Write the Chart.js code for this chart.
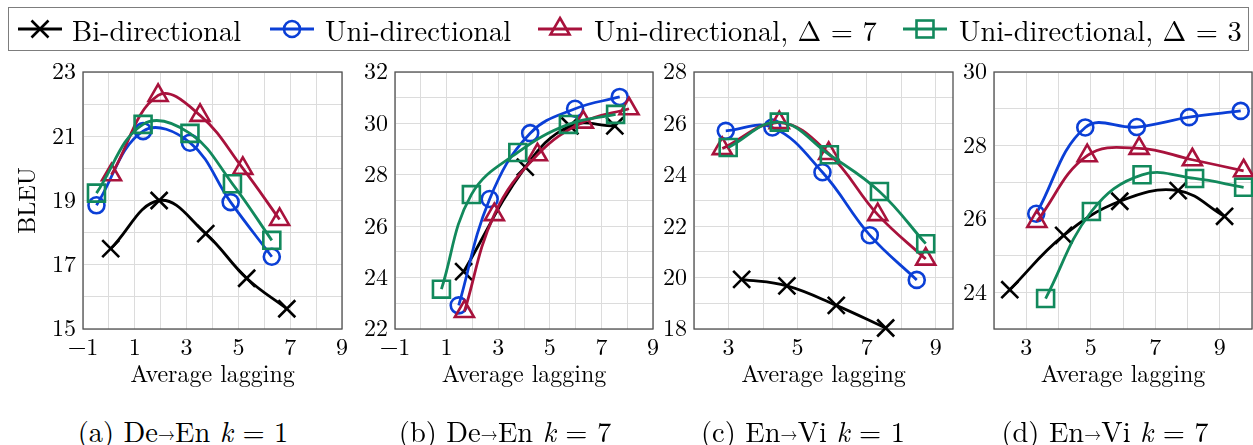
<!DOCTYPE html>
<html>
<head>
<meta charset="utf-8">
<script src="https://cdn.jsdelivr.net/npm/chart.js@4.4.1/dist/chart.umd.min.js"></script>
<style>
  html, body { margin: 0; padding: 0; width: 1253px; height: 445px; overflow: hidden; background: #fff; }
  body { position: relative; font-family: 'Latin Modern Roman', 'Liberation Serif', serif; color: #000; }
  canvas { position: absolute; }
  #legendBox { position: absolute; left: 8px; top: 7px; width: 1239px; height: 42px; border: 1.5px solid #7d7d7d; }
  .legText { position: absolute; top: 8px; height: 42px; line-height: 42px; font-size: 28.5px; white-space: nowrap; }
  .legIcon { position: absolute; top: 9px; }
  .cap { position: absolute; top: 412px; font-size: 28.5px; line-height: 36px; white-space: nowrap; transform: translateX(-50%); }
  .arr { font-size: 0.6em; position: relative; top: -0.12em; }
</style>
</head>
<body>
<div id="legendBox"></div>

<script>
// ---- tick labels (grid lines are drawn at every integer) ----
const xLabelsDeEn = [-1, 1, 3, 5, 7, 9];
const xLabelsEnVi = [3, 5, 7, 9];
const yLabelsDeEnK1 = [15, 17, 19, 21, 23];
const yLabelsDeEnK7 = [22, 24, 26, 28, 30, 32];
const yLabelsEnViK1 = [18, 20, 22, 24, 26, 28];
const yLabelsEnViK7 = [24, 26, 28, 30];

// ---- series names ----
const seriesNames = ['Bi-directional', 'Uni-directional', 'Uni-directional, \u0394 = 7', 'Uni-directional, \u0394 = 3'];

// ---- (average lagging, BLEU) pairs ----
// (a) De→En k = 1
const deEnK1Bi   = [[0.07, 17.50], [1.94, 19.00], [3.74, 17.97], [5.32, 16.58], [6.87, 15.63]];
const deEnK1Uni  = [[-0.48, 18.85], [1.32, 21.16], [3.13, 20.80], [4.70, 18.95], [6.29, 17.25]];
const deEnK1Uni7 = [[0.10, 19.80], [1.90, 22.27], [3.52, 21.65], [5.17, 20.00], [6.59, 18.41]];
const deEnK1Uni3 = [[-0.48, 19.23], [1.32, 21.37], [3.13, 21.09], [4.77, 19.52], [6.29, 17.76]];
// (b) De→En k = 7
const deEnK7Bi   = [[1.66, 24.23], [4.05, 28.30], [5.78, 29.90], [7.52, 29.90]];
const deEnK7Uni  = [[1.47, 22.92], [2.67, 27.06], [4.24, 29.62], [5.98, 30.57], [7.71, 31.03]];
const deEnK7Uni7 = [[1.69, 22.68], [2.85, 26.45], [4.52, 28.78], [6.30, 30.05], [8.07, 30.57]];
const deEnK7Uni3 = [[0.80, 23.55], [1.96, 27.23], [3.76, 28.87], [5.72, 29.96], [7.55, 30.35]];
// (c) En→Vi k = 1
const enViK1Bi   = [[3.38, 19.93], [4.69, 19.68], [6.12, 18.92], [7.55, 18.04]];
const enViK1Uni  = [[2.92, 25.71], [4.27, 25.84], [5.72, 24.10], [7.09, 21.65], [8.45, 19.91]];
const enViK1Uni7 = [[2.82, 25.02], [4.47, 26.03], [5.90, 24.83], [7.32, 22.45], [8.71, 20.72]];
const enViK1Uni3 = [[2.99, 25.06], [4.47, 26.05], [5.92, 24.78], [7.37, 23.35], [8.71, 21.32]];
// (d) En→Vi k = 7
const enViK7Bi   = [[2.49, 24.07], [4.16, 25.55], [5.90, 26.48], [7.71, 26.77], [9.15, 26.07]];
const enViK7Uni  = [[3.31, 26.14], [4.83, 28.49], [6.43, 28.50], [8.05, 28.77], [9.65, 28.94]];
const enViK7Uni7 = [[3.33, 25.93], [4.89, 27.72], [6.50, 27.92], [8.15, 27.61], [9.74, 27.31]];
const enViK7Uni3 = [[3.60, 23.83], [5.02, 26.20], [6.59, 27.20], [8.22, 27.10], [9.74, 26.86]];

// ---- look of each series ----
const seriesStyles = [
  { color: '#000000', marker: 'crossRot', radius: 12 },
  { color: '#0b3fd6', marker: 'circle',   radius: 8 },
  { color: '#a8123c', marker: 'triangle', radius: 11 },
  { color: '#12895c', marker: 'rect',     radius: 12 }
];
const LINE_W = 2.8, MARK_W = 2.6;
const FONT = "'Latin Modern Roman', 'Liberation Serif', serif";

// ---- panel layout ----
const panels = [
  { left: 83,  right: 342,  xMin: -1, xMax: 9,   yMin: 15, yMax: 23, xLabels: xLabelsDeEn, yLabels: yLabelsDeEnK1,
    series: [deEnK1Bi, deEnK1Uni, deEnK1Uni7, deEnK1Uni3], yTitle: 'BLEU',
    caption: '(a) De<span class="arr">\u2192</span>En <i>k</i> = 1', capX: 183 },
  { left: 395, right: 653,  xMin: -1, xMax: 9,   yMin: 22, yMax: 32, xLabels: xLabelsDeEn, yLabels: yLabelsDeEnK7,
    series: [deEnK7Bi, deEnK7Uni, deEnK7Uni7, deEnK7Uni3],
    caption: '(b) De<span class="arr">\u2192</span>En <i>k</i> = 7', capX: 505 },
  { left: 694, right: 953,  xMin: 2,  xMax: 9.5, yMin: 18, yMax: 28, xLabels: xLabelsEnVi, yLabels: yLabelsEnViK1,
    series: [enViK1Bi, enViK1Uni, enViK1Uni7, enViK1Uni3],
    caption: '(c) En<span class="arr">\u2192</span>Vi <i>k</i> = 1', capX: 803 },
  { left: 994, right: 1252, xMin: 2,  xMax: 10,  yMin: 23, yMax: 30, xLabels: xLabelsEnVi, yLabels: yLabelsEnViK7,
    series: [enViK7Bi, enViK7Uni, enViK7Uni7, enViK7Uni3],
    caption: '(d) En<span class="arr">\u2192</span>Vi <i>k</i> = 7', capX: 1105 }
];
const PLOT_TOP = 72, PLOT_BOTTOM = 329, CANVAS_TOP = 30, CANVAS_BOTTOM = 400, PAD_RIGHT = 20;

const fmt = v => (v < 0 ? '\u2212' + Math.abs(v) : String(v));
const integerTicks = (lo, hi) => { const t = []; for (let v = Math.ceil(lo); v <= hi + 1e-9; v++) t.push({ value: v }); return t; };

// full box around the plot area, as in a framed axis
const frame = {
  id: 'frame',
  beforeDatasetsDraw(chart) {
    const { ctx, chartArea: a } = chart;
    ctx.save();
    ctx.strokeStyle = '#505050';
    ctx.lineWidth = 1.3;
    ctx.strokeRect(a.left, a.top, a.right - a.left, a.bottom - a.top);
    ctx.restore();
  }
};

panels.forEach(p => {
  const yW = Math.min(90, p.left);
  const cx = p.left - yW;
  const cw = (p.right - p.left) + yW + PAD_RIGHT;
  const ch = CANVAS_BOTTOM - CANVAS_TOP;
  const cv = document.createElement('canvas');
  cv.width = cw; cv.height = ch;
  cv.style.left = cx + 'px'; cv.style.top = CANVAS_TOP + 'px';
  cv.style.width = cw + 'px'; cv.style.height = ch + 'px';
  document.body.appendChild(cv);

  const tickFont = { family: FONT, size: 24 };
  new Chart(cv, {
    type: 'line',
    data: {
      datasets: p.series.map((pts, i) => {
        const s = seriesStyles[i];
        return {
          label: seriesNames[i],
          data: pts.map(([x, y]) => ({ x, y })),
          borderColor: s.color,
          backgroundColor: 'transparent',
          borderWidth: LINE_W,
          pointStyle: s.marker,
          pointRadius: s.radius,
          pointHoverRadius: s.radius,
          pointBorderWidth: MARK_W,
          pointBorderColor: s.color,
          pointBackgroundColor: 'transparent',
          tension: 0.4,
          fill: false,
          clip: false,
          order: 4 - i
        };
      })
    },
    options: {
      responsive: false,
      animation: false,
      devicePixelRatio: 1,
      events: [],
      layout: { padding: { left: 0, right: PAD_RIGHT, top: PLOT_TOP - CANVAS_TOP, bottom: 0 } },
      plugins: { legend: { display: false }, tooltip: { enabled: false }, title: { display: false } },
      scales: {
        x: {
          type: 'linear', min: p.xMin, max: p.xMax,
          afterFit: s => { s.height = CANVAS_BOTTOM - PLOT_BOTTOM; },
          afterBuildTicks: s => { s.ticks = integerTicks(p.xMin, p.xMax); },
          ticks: { autoSkip: false, maxRotation: 0, padding: 4, color: '#000', font: tickFont,
                   callback: v => (p.xLabels.includes(v) ? fmt(v) : '') },
          grid: { color: '#dcdcdc', lineWidth: 1, drawTicks: false },
          border: { display: false },
          title: { display: true, text: 'Average lagging', color: '#000',
                   font: { family: FONT, size: 24 }, padding: { top: 0, bottom: 11 } }
        },
        y: {
          type: 'linear', min: p.yMin, max: p.yMax,
          afterFit: s => { s.width = yW; },
          afterBuildTicks: s => { s.ticks = integerTicks(p.yMin, p.yMax); },
          ticks: { autoSkip: false, padding: 7, color: '#000', font: tickFont,
                   callback: v => (p.yLabels.includes(v) ? fmt(v) : '') },
          grid: { color: '#dcdcdc', lineWidth: 1, drawTicks: false },
          border: { display: false },
          title: { display: !!p.yTitle, text: p.yTitle || '', color: '#000',
                   font: { family: FONT, size: 24 }, padding: { top: 13, bottom: 0 } }
        }
      }
    },
    plugins: [frame]
  });

  const cap = document.createElement('div');
  cap.className = 'cap';
  cap.style.left = p.capX + 'px';
  cap.innerHTML = p.caption;
  document.body.appendChild(cap);
});

// ---- shared legend: line sample with marker, then the series name ----
const legendIconX = [18, 270, 538, 903];
const legendTextX = [72, 325, 594, 959];
function markerSvg(s) {
  const c = 22, cy = 20, r = s.radius;
  const st = `fill="none" stroke="${s.color}" stroke-width="${MARK_W}"`;
  if (s.marker === 'crossRot') {
    const d = r * Math.SQRT1_2;
    return `<path d="M${c - d} ${cy - d}L${c + d} ${cy + d}M${c + d} ${cy - d}L${c - d} ${cy + d}" ${st}/>`;
  }
  if (s.marker === 'circle') return `<circle cx="${c}" cy="${cy}" r="${r}" ${st}/>`;
  if (s.marker === 'triangle') {
    const pts = [0, 1, 2].map(k => {
      const a = k * 2 * Math.PI / 3;
      return `${c + Math.sin(a) * r},${cy - Math.cos(a) * r}`;
    }).join(' ');
    return `<polygon points="${pts}" ${st}/>`;
  }
  const h = r * Math.SQRT1_2;
  return `<rect x="${c - h}" y="${cy - h}" width="${2 * h}" height="${2 * h}" ${st}/>`;
}
seriesStyles.forEach((s, i) => {
  const icon = document.createElement('div');
  icon.className = 'legIcon';
  icon.style.left = legendIconX[i] + 'px';
  icon.innerHTML = `<svg width="44" height="40" xmlns="http://www.w3.org/2000/svg">` +
    `<line x1="0" y1="20" x2="44" y2="20" stroke="${s.color}" stroke-width="${LINE_W}"/>` +
    markerSvg(s) + `</svg>`;
  document.body.appendChild(icon);
  const t = document.createElement('div');
  t.className = 'legText';
  t.style.left = legendTextX[i] + 'px';
  t.textContent = seriesNames[i];
  document.body.appendChild(t);
});
</script>
</body>
</html>
